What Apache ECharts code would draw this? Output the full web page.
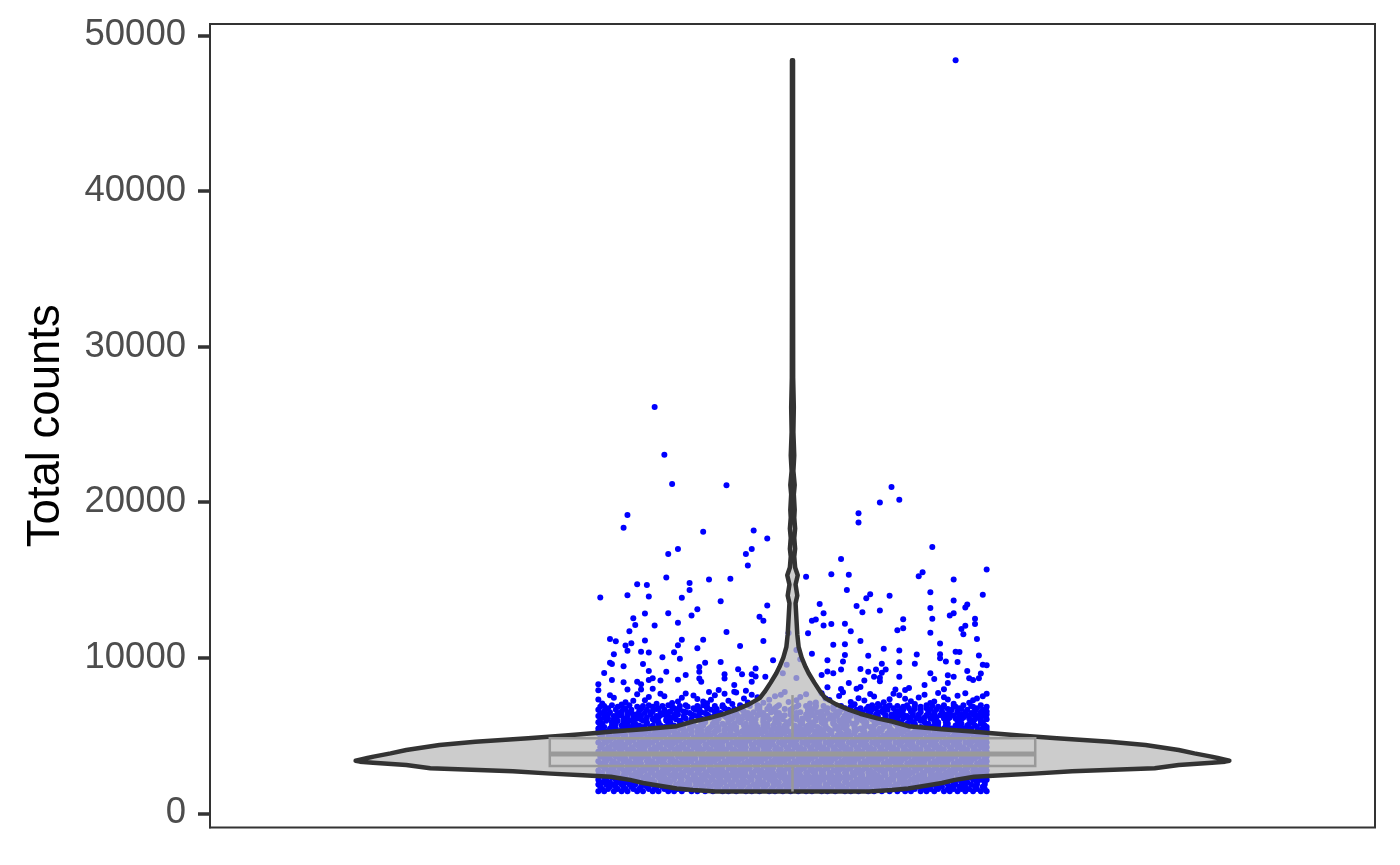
<!DOCTYPE html>
<html>
<head>
<meta charset="utf-8">
<script src="https://cdn.jsdelivr.net/npm/echarts@6.0.0/dist/echarts.min.js"></script>
<style>
html,body{margin:0;padding:0;background:#fff;}
#chart{width:1400px;height:865px;}
</style>
</head>
<body>
<div id="chart"></div>
<script>
// ---------- data ----------
const yTicks = [0, 10000, 20000, 30000, 40000, 50000];
const yTitle = 'Total counts';

// violin outline: counts and relative half-width (1 = widest)
const violinCounts = [1400,1500,1600,1800,1950,2150,2350,2450,2550,2700,2900,3100,3250,3320,3380,3450,3550,3640,3850,4070,4390,4600,4820,5000,5150,5250,5400,5600,5900,6100,6400,6650,7000,7400,7800,8400,9000,9400,10000,10700,11500,12500,13500,14000,14700,15300,15800,16500,17000,17700,18300,19000,19500,20500,21100,22000,23000,24500,26100,28000,35000,48400];
const violinWidth = [0.176,0.228,0.265,0.311,0.342,0.372,0.416,0.48,0.553,0.64,0.829,0.884,0.96,0.99,1,0.99,0.973,0.959,0.92,0.884,0.808,0.726,0.605,0.52,0.457,0.411,0.342,0.265,0.228,0.194,0.155,0.13,0.1,0.075,0.064,0.05,0.037,0.03,0.021,0.014,0.011,0.009,0.007,0.011,0.007,0.012,0.006,0.004,0.006,0.004,0.006,0.004,0.005,0.003,0.005,0.002,0.004,0.002,0.003,0.0015,0.0012,0.0012];

// box plot: lower whisker, Q1, median, Q3, upper whisker
const boxStats = [1400, 3040, 3810, 4820, 7600];

// dense cells: [counts, jitter positions (-100..100 of jitter half-width)]
const bulkRows = [
[1420,[-100,-97,-92,-88,-85,-80,-77,-72,-69,-64,-61,-57,-52,-49,-45,-41,-36,-33,-29,-24,-21,-17,-12,-9,-5,-1,3,7,10,15,18,22,27,30,34,39,42,46,50,54,58,61,66,69,73,78,81,85,89,93,97,100]],
[1560,[-98,-95,-90,-86,-82,-79,-74,-71,-66,-62,-59,-55,-51,-47,-43,-39,-35,-31,-27,-23,-19,-15,-11,-7,-3,1,5,9,13,16,20,25,28,32,36,40,44,48,52,56,59,63,68,71,75,80,83,87,91,95,99]],
[1700,[-99,-94,-91,-87,-83,-78,-75,-70,-67,-63,-58,-54,-50,-46,-42,-38,-34,-30,-26,-22,-18,-14,-10,-6,-2,2,6,11,14,18,23,26,31,35,38,43,47,51,54,58,62,66,70,74,77,82,86,89,94,98]],
[1850,[-100,-96,-92,-88,-84,-81,-76,-73,-68,-65,-60,-56,-53,-48,-44,-40,-37,-32,-28,-25,-20,-16,-13,-8,-4,0,4,8,12,17,21,24,29,33,37,41,45,49,53,57,60,64,69,72,76,80,84,88,92,95,99]],
[2000,[-98,-94,-90,-86,-82,-78,-74,-71,-66,-63,-58,-54,-50,-47,-43,-39,-35,-31,-27,-23,-18,-15,-10,-7,-2,2,6,10,14,19,22,27,31,35,39,43,47,50,55,59,63,67,71,74,79,83,87,90,95,99]],
[2150,[-100,-96,-91,-88,-84,-80,-76,-72,-68,-64,-61,-57,-52,-48,-45,-41,-37,-33,-29,-25,-21,-17,-12,-9,-4,0,4,8,12,16,20,24,28,33,37,41,45,49,52,57,61,65,69,73,77,81,85,89,93,97,100]],
[2300,[-97,-93,-89,-86,-81,-77,-74,-69,-66,-61,-58,-54,-50,-46,-42,-38,-34,-30,-26,-22,-18,-14,-10,-6,-2,2,6,10,14,18,22,26,30,35,39,43,46,51,55,58,63,67,71,75,79,82,87,91,95,98]],
[2450,[-100,-95,-92,-87,-83,-79,-75,-71,-67,-63,-59,-56,-51,-47,-44,-40,-36,-32,-28,-24,-20,-16,-12,-8,-4,0,4,8,12,16,20,24,28,32,36,41,44,48,53,57,60,65,68,73,77,81,85,89,92,96,100]],
[2600,[-98,-94,-90,-85,-81,-78,-73,-69,-65,-61,-57,-53,-49,-45,-41,-38,-34,-30,-26,-21,-17,-14,-10,-6,-1,2,7,11,15,19,23,27,31,34,39,42,47,51,55,59,62,67,71,75,79,83,87,90,94,98]],
[2750,[-100,-95,-92,-87,-84,-79,-76,-72,-67,-64,-60,-55,-52,-48,-43,-40,-36,-31,-28,-24,-19,-16,-12,-7,-4,1,4,9,12,16,21,24,28,33,36,40,45,48,52,57,60,64,69,72,76,81,84,88,93,96,100]],
[2900,[-97,-93,-89,-85,-82,-77,-74,-70,-65,-62,-58,-54,-50,-46,-42,-38,-33,-30,-26,-22,-18,-13,-10,-6,-2,3,6,10,14,18,23,26,30,34,38,43,46,50,54,58,63,66,70,74,78,83,86,90,94,98]],
[3050,[-99,-96,-91,-88,-83,-80,-75,-72,-67,-64,-59,-56,-51,-48,-43,-39,-36,-31,-27,-24,-19,-15,-12,-7,-3,0,5,8,13,17,20,25,29,32,37,41,44,49,53,56,61,65,68,73,77,80,85,89,92,97,100]],
[3200,[-98,-93,-90,-85,-82,-78,-73,-70,-66,-61,-58,-54,-49,-46,-42,-37,-34,-30,-25,-22,-18,-13,-10,-6,-1,2,6,11,14,18,23,26,30,35,38,42,47,50,54,59,62,66,71,74,78,83,86,90,95,98]],
[3350,[-100,-96,-92,-87,-84,-80,-75,-72,-68,-63,-60,-56,-52,-47,-44,-40,-35,-32,-28,-23,-20,-16,-11,-8,-4,1,4,8,13,16,20,25,28,32,37,40,44,49,52,56,61,64,68,73,76,80,85,88,92,97,100]],
[3500,[-97,-94,-89,-86,-81,-78,-74,-69,-66,-62,-57,-54,-50,-45,-42,-38,-33,-30,-26,-21,-18,-14,-9,-6,-2,3,6,10,15,18,22,27,30,34,39,42,46,51,54,58,63,66,70,75,78,82,87,90,94,99]],
[3650,[-99,-95,-91,-88,-83,-79,-76,-71,-68,-64,-59,-56,-52,-47,-44,-40,-36,-31,-28,-24,-19,-16,-12,-7,-4,0,5,8,12,17,20,24,29,32,36,41,44,48,53,56,60,65,68,72,77,80,84,89,92,96,100]],
[3800,[-98,-93,-90,-86,-81,-77,-74,-70,-65,-62,-58,-53,-50,-46,-41,-38,-34,-29,-26,-22,-17,-14,-10,-5,-2,2,7,10,14,19,22,26,31,34,38,43,46,50,55,58,62,67,70,74,79,82,86,91,94,98]],
[3950,[-100,-96,-92,-88,-84,-80,-76,-72,-67,-64,-60,-55,-52,-48,-43,-40,-36,-31,-28,-24,-20,-15,-12,-8,-3,0,4,9,12,16,21,24,28,33,36,40,45,48,52,57,60,64,69,72,76,81,84,88,93,96,100]],
[4100,[-97,-94,-89,-85,-82,-78,-73,-70,-66,-61,-58,-54,-49,-46,-42,-38,-34,-30,-26,-21,-18,-14,-9,-6,-2,3,6,10,15,18,22,27,30,34,39,42,46,51,54,58,63,66,70,75,78,82,87,90,94,99]],
[4250,[-99,-95,-91,-87,-83,-79,-76,-71,-68,-63,-59,-56,-51,-48,-44,-39,-36,-32,-27,-24,-20,-15,-12,-8,-3,1,4,9,13,16,21,25,28,33,37,40,45,49,52,57,61,64,69,73,76,81,85,88,93,97,100]],
[4400,[-98,-93,-89,-86,-81,-77,-74,-69,-65,-62,-57,-53,-50,-45,-41,-38,-33,-29,-26,-21,-17,-14,-10,-5,-1,2,7,11,14,19,23,26,31,35,38,43,47,50,55,59,62,67,71,74,79,83,86,91,95,98]],
[4550,[-100,-96,-91,-88,-84,-79,-76,-72,-67,-64,-60,-55,-52,-48,-43,-40,-36,-31,-28,-24,-19,-16,-12,-7,-4,0,5,8,12,17,20,24,29,32,36,41,44,48,53,56,60,65,68,72,77,80,84,89,92,96,100]],
[4700,[-97,-94,-89,-85,-82,-77,-74,-70,-65,-62,-58,-53,-50,-46,-41,-38,-34,-29,-26,-22,-17,-14,-10,-5,-2,2,7,10,14,19,22,26,31,34,38,43,46,50,55,58,62,67,70,74,79,82,86,91,94,98]],
[4850,[-99,-95,-92,-87,-83,-80,-75,-71,-68,-63,-60,-56,-51,-48,-44,-39,-36,-32,-27,-24,-20,-15,-12,-8,-3,0,4,9,12,16,21,24,28,33,36,40,45,48,52,57,60,64,69,72,76,81,84,88,93,96,100]],
[5000,[-98,-94,-90,-86,-82,-78,-73,-70,-66,-61,-58,-54,-49,-46,-42,-37,-34,-30,-25,-22,-18,-13,-10,-6,-1,2,6,11,14,18,23,26,30,35,38,42,47,50,54,59,62,66,71,74,78,83,86,90,95,98]],
[5150,[-100,-95,-91,-88,-83,-80,-76,-71,-68,-64,-59,-56,-52,-47,-44,-40,-35,-32,-28,-23,-20,-16,-11,-8,-4,1,4,8,13,16,20,25,28,32,37,40,44,49,52,56,61,64,68,73,76,80,85,88,92,97,100]],
[5250,[-100,-96,-90,-87,-81,-78,-74,-69,-66,-61,-55,-52,-49,-43,-40,-35,-32,-26,-23,-19,-14,-11,-6,-2,3,7,12,15,20,24,29,32,37,41,45,50,53,57,63,66,70,75,79,84,87,92,95,99]],
[5350,[-98,-94,-88,-84,-79,-75,-70,-65,-62,-56,-52,-47,-44,-38,-35,-29,-25,-21,-17,-11,-8,-3,1,6,10,16,19,24,28,33,36,42,46,51,54,59,64,67,73,76,82,86,90,97,100]],
[5450,[-100,-94,-91,-85,-81,-76,-71,-67,-61,-58,-53,-48,-43,-39,-33,-30,-24,-20,-15,-9,-5,1,4,9,14,18,22,27,32,35,41,45,50,56,59,64,68,74,78,82,88,92,98]],
[5550,[-97,-92,-86,-83,-77,-73,-66,-63,-58,-52,-49,-42,-38,-32,-29,-22,-18,-13,-7,-3,3,7,13,17,23,26,32,37,40,47,50,56,60,66,71,75,80,86,90,95,100]],
[5650,[-99,-93,-88,-82,-79,-72,-68,-61,-56,-51,-46,-41,-35,-31,-25,-20,-15,-10,-4,1,8,11,17,22,28,32,38,42,48,54,58,63,69,73,79,84,90,94,99]],
[5750,[-98,-91,-85,-81,-75,-69,-64,-57,-53,-47,-41,-36,-30,-24,-19,-13,-7,-2,5,9,16,21,25,31,37,43,47,53,59,63,70,75,80,87,91,97]],
[5850,[-100,-93,-87,-82,-75,-69,-63,-58,-51,-45,-39,-33,-27,-21,-15,-9,-3,4,10,15,21,27,33,38,45,51,56,62,68,75,79,86,93,98]],
[5950,[-96,-90,-84,-77,-71,-65,-58,-52,-46,-40,-33,-28,-20,-15,-8,-1,5,12,17,24,29,36,42,49,54,61,66,73,79,85,92,97]],
[6050,[-99,-92,-86,-78,-72,-65,-60,-52,-45,-39,-32,-26,-19,-12,-5,2,8,15,21,28,34,41,47,54,60,67,74,80,87,94,100]],
[6100,[-95,-87,-80,-71,-63,-55,-47,-38,-31,-23,-15,-9,5,12,19,26,37,44,51,57,64,71,78,84,91,97]],
[6150,[-97,-91,-82,-75,-69,-61,-56,-48,-42,-34,-28,-21,-14,-7,0,7,14,20,27,33,40,48,53,61,68,74,81,88,95]],
[6250,[-100,-92,-85,-78,-70,-64,-56,-49,-43,-35,-28,-22,-13,-6,2,9,16,23,30,38,44,51,59,65,72,79,86,94,99]],
[6300,[-97,-89,-79,-68,-61,-51,-40,-33,-25,-18,-4,11,20,27,35,48,55,62,69,76,83,90,96]],
[6350,[-95,-88,-81,-73,-66,-59,-52,-44,-36,-30,-22,-16,-8,-1,7,15,22,29,36,43,51,57,65,73,79,87,93,100]],
[6450,[-99,-90,-83,-76,-68,-60,-53,-45,-37,-29,-23,-15,-7,2,10,18,24,32,40,47,55,62,70,77,85,92,98]],
[6500,[-94,-85,-73,-64,-55,-47,-39,-20,-11,4,13,28,36,44,53,66,73,81,89,97]],
[6550,[-97,-88,-79,-72,-63,-56,-48,-40,-32,-25,-17,-9,-1,8,15,23,31,39,46,54,61,70,77,85,94,100]],
[6650,[-100,-91,-83,-75,-66,-58,-50,-42,-33,-26,-17,-10,-1,8,17,25,33,41,49,57,66,74,82,90,98]],
[6700,[-96,-87,-78,-70,-59,-48,-39,-30,-13,-4,11,21,38,47,56,63,71,80,87,94]],
[6750,[-95,-86,-78,-69,-61,-51,-44,-35,-27,-18,-9,0,9,18,27,35,43,52,60,69,77,86,95]],
[6850,[-99,-90,-80,-72,-62,-54,-44,-36,-26,-17,-8,2,12,21,30,39,48,57,66,75,84,93,100]],
[6900,[-97,-88,-77,-67,-58,-49,-40,-22,-12,7,16,25,45,54,63,72,83,92]],
[6950,[-93,-84,-74,-64,-55,-46,-36,-27,-18,-7,3,12,22,31,41,50,59,69,78,88,97]]
];

// individual cells: [jitter (-100..100), counts]
const cellPoints = [
[-98,7050],[-92,7420],[-86,7130],[-80,7650],[-76,7260],[-70,7040],[-66,7530],[-59,7190],[-55,7700],[-49,7350],[-44,7080],[-40,7580],[-33,7230],[-29,7760],[-23,7120],[-18,7460],[-12,7300],[-6,7620],[-2,7160],[4,7480],[9,7060],[15,7720],[19,7280],[24,7540],[30,7150],[34,7400],[40,7660],[44,7030],[50,7330],[55,7590],[61,7200],[65,7450],[71,7090],[75,7740],[80,7310],[85,7560],[91,7100],[95,7380],[100,7680],
[-100,7310],[-94,7580],[-88,7000],[-82,7230],[-74,7480],[-68,7680],[-62,7090],[-57,7420],[-51,7570],[-46,7180],[-42,7300],[-35,7690],[-31,7020],[-25,7380],[-21,7620],[-15,7100],[-9,7520],[-4,7790],[2,7270],[7,7650],[12,7120],[17,7380],[26,7780],[32,7010],[37,7250],[42,7510],[47,7140],[52,7690],[58,7370],[63,7030],[68,7620],[73,7190],[78,7460],[83,7040],[89,7720],[93,7270],[98,7530],
[84,48400],[-71,26110],[-66,23040],[-62,21160],[-34,21090],[-85,19180],[-87,18350],[-46,18090],[-20,18170],[-13,17660],[-59,16980],[-21,16980],[51,20980],[55,20150],[45,19980],[34,19290],[34,18690],[72,17110],
[-64,16660],[-24,16660],[-23,15920],[-65,15150],[-80,14730],[-75,14680],[-53,14810],[-43,15020],[-32,15070],[-99,13870],[-85,14020],[-74,13930],[-53,14360],[-57,13850],[-37,13630],[-13,13350],[-49,13120],[-52,12710],[-76,12840],[-64,12860],[-82,12540],[-81,12110],[-71,12070],[-59,12240],[-17,12640],[-15,12370],[-84,11700],[-34,11660],[-94,11210],[-91,11060],[-76,11100],[-57,11150],[-46,11150],[-15,11080],[-86,10780],[-83,10930],[-59,10800],[-27,10760],[-85,10440],[-78,10390],[-74,10330],[-49,10610],[-61,10350],[-92,10230],[-67,10030],[-58,9940],[-10,9840],[-94,9670],[-93,9600],[-77,9600],[-45,9670],[-37,9730],[-87,9450],[-97,9020],[-74,9150],[-65,9090],[-48,9410],[-48,9090],[-28,9260],[-55,8890],[-19,9300],[-26,8940],[-21,8940],[-35,8940],[-35,8660],[-72,8680],[-68,8530],[-74,8570],[-59,8590],[-48,8660],[-93,8570],[-100,8300],[-80,8460],[-78,8300],[-87,8430],[-78,7950],[-85,7950],[-100,7910],[-72,8010],[-47,8460],[-30,8250],[-30,7820],[-21,8460],[-19,8790],[-14,8770],[-24,7880],[-38,7930],[-43,7800],
[25,16350],[7,15200],[20,15370],[29,15340],[65,15240],[67,15500],[100,15670],[83,15020],[28,14360],[38,13830],[40,14080],[50,13990],[71,14210],[98,14040],[83,13670],[14,13460],[33,13330],[36,12930],[45,13030],[71,13200],[90,13420],[89,13220],[16,12860],[81,12710],[83,12860],[57,12480],[72,12500],[94,12500],[94,12170],[10,12370],[12,12450],[16,12070],[20,12160],[27,12190],[30,11700],[54,11770],[57,11900],[71,11610],[87,11850],[89,12050],[88,11510],[95,11210],[8,11580],[35,11080],[21,10840],[27,10870],[76,10910],[47,10570],[55,10460],[84,10390],[86,10370],[10,10260],[27,10180],[39,10120],[64,10200],[76,10230],[76,9970],[96,10140],[18,9840],[26,9750],[55,9710],[63,9620],[79,9750],[85,9730],[98,9540],[100,9520],[25,9240],[18,9110],[21,9000],[35,9280],[39,9090],[43,9240],[46,9620],[48,9240],[46,9040],[71,9000],[90,9150],[97,8980],[15,8890],[42,8770],[45,8720],[45,8490],[55,8770],[73,8640],[80,8880],[83,8770],[91,8680],[93,8570],[96,8680],[29,8380],[35,8120],[37,8530],[33,8010],[53,7950],[58,7930],[60,8060],[68,8250],[80,8380],[78,7970],[25,7990],[18,8100],
[-2,11590],[2,10500],[-3,9540],[2,8700],[-5,9000],[4,9900]
];

// ---------- chart ----------
const CENTER = 1, JITTER = 0.2, VIOLIN_HALF = 0.45, BOX_HALF = 0.25;
const pts = [];
bulkRows.forEach(function (r) { r[1].forEach(function (j) { pts.push([CENTER + JITTER * j / 100, r[0]]); }); });
cellPoints.forEach(function (p) { pts.push([CENTER + JITTER * p[0] / 100, p[1]]); });

const FONT = '"Liberation Sans", Arial, Helvetica, sans-serif';
const chart = echarts.init(document.getElementById('chart'), null, { renderer: 'canvas' });
chart.setOption({
  animation: false,
  backgroundColor: '#ffffff',
  grid: { left: 210, right: 25, top: 24, bottom: 37.5, show: true, borderColor: '#333333', borderWidth: 2, backgroundColor: 'transparent' },
  xAxis: { type: 'value', min: 0.4, max: 1.6, show: false },
  yAxis: {
    type: 'value', min: -913, max: 50733,
    name: yTitle, nameLocation: 'middle', nameGap: 141,
    nameTextStyle: { fontSize: 45.5, color: '#000000', fontFamily: FONT },
    axisLine: { show: true, lineStyle: { color: '#333333', width: 2 } },
    axisTick: { show: true, length: 12, customValues: yTicks, lineStyle: { color: '#333333', width: 3.5 } },
    axisLabel: { customValues: yTicks, color: '#4d4d4d', fontSize: 36.5, fontFamily: FONT, margin: 24,
      formatter: function (v) { return String(v); } },
    splitLine: { show: false }
  },
  series: [
    {
      type: 'scatter', z: 2, silent: true, progressive: 0, large: false,
      symbol: 'circle', symbolSize: 6,
      itemStyle: { color: '#0000ff', opacity: 1 },
      data: pts
    },
    {
      type: 'custom', z: 3, silent: true, clip: false,
      data: [[CENTER, 0]],
      renderItem: function (params, api) {
        const p = [];
        for (let i = 0; i < violinCounts.length; i++) p.push(api.coord([CENTER - VIOLIN_HALF * violinWidth[i], violinCounts[i]]));
        for (let i = violinCounts.length - 1; i >= 0; i--) p.push(api.coord([CENTER + VIOLIN_HALF * violinWidth[i], violinCounts[i]]));
        return { type: 'polygon', shape: { points: p },
          style: { fill: 'rgba(187,187,187,0.75)', stroke: '#333333', lineWidth: 4.5, lineJoin: 'round', lineCap: 'round' } };
      }
    },
    {
      type: 'custom', z: 4, silent: true, clip: false,
      data: [[CENTER].concat(boxStats)],
      renderItem: function (params, api) {
        const mn = boxStats[0], q1 = boxStats[1], med = boxStats[2], q3 = boxStats[3], mx = boxStats[4];
        const xl = api.coord([CENTER - BOX_HALF, q3]);
        const xr = api.coord([CENTER + BOX_HALF, q1]);
        const c = function (v) { return api.coord([CENTER, v]); };
        const stroke = '#999999';
        return { type: 'group', children: [
          { type: 'line', shape: { x1: c(q3)[0], y1: c(q3)[1], x2: c(mx)[0], y2: c(mx)[1] }, style: { stroke: stroke, lineWidth: 2.5 } },
          { type: 'line', shape: { x1: c(q1)[0], y1: c(q1)[1], x2: c(mn)[0], y2: c(mn)[1] }, style: { stroke: stroke, lineWidth: 2.5 } },
          { type: 'rect', shape: { x: xl[0], y: xl[1], width: xr[0] - xl[0], height: xr[1] - xl[1] }, style: { fill: 'none', stroke: stroke, lineWidth: 2.5 } },
          { type: 'line', shape: { x1: xl[0], y1: c(med)[1], x2: xr[0], y2: c(med)[1] }, style: { stroke: stroke, lineWidth: 5 } }
        ] };
      }
    }
  ]
});
</script>
</body>
</html>
